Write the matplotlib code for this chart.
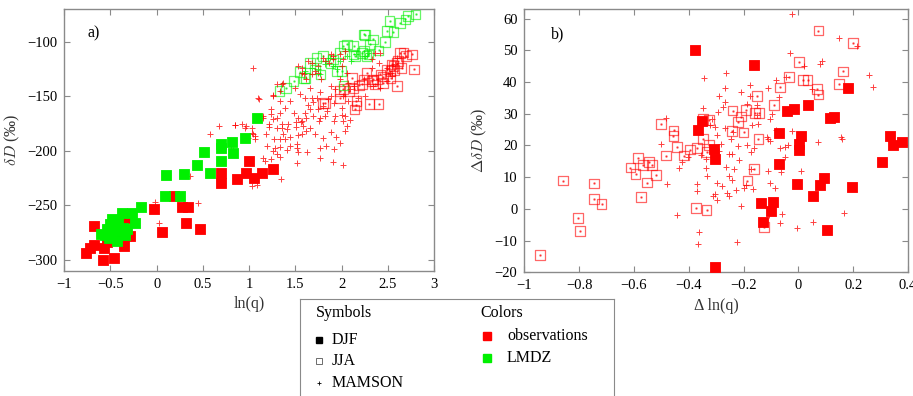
import matplotlib
matplotlib.use('agg')
import matplotlib.pyplot as plt
from matplotlib.ticker import FuncFormatter

plt.rcParams['font.family'] = ['Liberation Serif', 'DejaVu Serif']
plt.rcParams['mathtext.fontset'] = 'cm'
plt.rcParams['axes.unicode_minus'] = True

RED = '#ff0000'
GREEN = '#00f000'
GRAY = '#8a8a8a'

# ---- panel a: deltaD against ln(q) ----
a_obs_djf_x = [-0.77, -0.72, -0.675, -0.675, -0.578, -0.57, -0.535, -0.465, -0.416, -0.397,
               -0.35, -0.325, -0.29, -0.03, 0.054, 0.19, 0.27, 0.335, 0.32, 0.47,
               0.69, 0.69, 0.87, 0.97, 1.0, 1.05, 1.14, 1.26]
a_obs_djf_y = [-293.9, -289.3, -286.2, -269.2, -300.6, -289.3, -283.8, -298.2, -266, -278.3,
               -287.5, -261.5, -278.3, -253.8, -274.3, -241.3, -251.4, -252, -266, -272.2,
               -220.2, -229.4, -225.7, -220, -209.5, -224.7, -220, -216.5]

a_lmdz_djf_x = [0.10, 0.29, 0.44, 0.58, 0.51, 0.69, 0.69, 0.69, 0.81, 0.83, 0.96, 1.09,
                0.087, 0.25, -0.17, -0.38, -0.27, -0.24, -0.48, -0.43, -0.6, -0.54,
                -0.505, -0.45, -0.40, -0.36, -0.325, -0.487, -0.56, -0.34, -0.52, -0.42]
a_lmdz_djf_y = [-222.3, -221, -213.1, -220, -200.9, -209.2, -197.2, -193.6, -191.7, -201.8, -188.4, -170.4,
                -241.3, -241.9, -252, -256.9, -257, -266, -262.4, -283.2, -275.9, -272.2,
                -267.6, -270.6, -273.8, -270.6, -272.2, -276.8, -277.7, -276.8, -280, -265]

a_obs_jja_x = [2.02, 2.13, 1.80, 1.98, 2.16, 2.16, 2.30, 2.40, 2.34, 2.45, 2.49, 2.54, 2.61,
               2.67, 2.76, 2.78, 2.65, 2.60, 2.53, 2.24, 2.27, 2.22, 2.36, 2.45, 2.53, 2.60,
               2.08, 2.19, 2.42, 2.57, 2.70, 2.33, 2.38, 2.56, 2.63, 2.11, 1.82, 2.14, 1.98]
a_obs_jja_y = [-143.1, -143, -156.6, -152, -158.4, -154.5, -157, -157, -134.6, -132, -125.4, -120.8, -117.8,
               -110, -111.7, -125.4, -123.9, -140.7, -133, -134.6, -128.5, -139.2, -139.2, -137.7, -127, -119.3,
               -145, -140, -130, -126, -113, -136.1, -134.6, -122.4, -110.1, -133, -156, -162.1, -145]

a_lmdz_jja_x = [1.33, 1.40, 1.48, 1.61, 1.66, 1.71, 1.77, 1.88, 1.91, 2.02, 2.06, 1.98, 2.02,
                2.22, 2.25, 2.34, 2.29, 2.47, 2.49, 2.56, 2.52, 2.63, 2.69, 2.72, 2.80, 2.31,
                2.13, 1.95, 2.13, 1.55, 1.80, 2.40, 1.59, 1.73, 2.00, 2.15, 2.24, 2.27, 2.24]
a_lmdz_jja_y = [-145.3, -142.2, -136.1, -133, -119.3, -125.4, -130, -119.3, -116.2, -104, -102.5, -110.1, -140.1,
                -110.1, -93.9, -97.9, -111.6, -100.4, -90.3, -90.9, -81.2, -82.6, -79.6, -76.5, -75, -102.5,
                -111.6, -127, -104, -128, -113, -108, -133, -114.7, -127, -113.2, -108.6, -113.2, -93.3]

a_obs_mam_x = [1.04, 1.37, 1.30, 1.26, 1.11, 1.33, 1.44, 1.50, 1.53, 1.57, 1.55, 1.60, 1.66, 1.64,
               1.69, 1.73, 1.77, 1.75, 1.80, 1.85, 1.88, 1.92, 1.93, 1.88, 1.98, 2.06, 2.07, 2.00,
               1.98, 1.91, 1.86, 1.89, 1.80, 1.75, 1.71, 1.68, 1.75, 1.78, 1.62, 1.59, 1.57, 1.64,
               1.68, 1.82, 1.91, 2.04, 2.02, 2.13, 2.18, 2.24, 2.33, 2.40, 2.42, 2.36, 2.33, 2.49,
               2.52, 2.54, 2.58, 2.60, 2.49, 2.42, 2.34, 2.25, 2.09, 2.02, 2.07, 1.84, 1.93, 2.00,
               2.04, 1.39, 1.33, 1.24, 1.26, 1.48, 1.53, 1.60, 1.66, 1.69, 1.77, 1.57, 1.68, 1.33,
               0.847, 0.92, 0.97, 0.956, 1.03, 1.03, 1.06, 1.06, 0.99, 1.15, 1.24, 1.30, 1.21, 1.22,
               1.30, 1.36, 1.35, 1.41, 1.42, 1.51, 1.51, 1.56, 1.58, 1.62, 1.66, 1.62, 1.71, 1.76,
               1.82, 1.92, 2.02, 2.06, 2.04, 2.09, 2.00, 1.57, 1.53, 1.44, 1.39, 1.33, 1.27, 1.37,
               1.18, 1.19, 1.28, 1.33, 1.44, 1.52, 1.52, 1.41, 1.53, 1.63, 1.26, 1.30, 1.33, 1.24,
               1.15, 1.17, 1.52, 1.77, 1.83, 1.92, 1.98, 1.89, 1.94, 1.80, 1.77, 1.91, 2.02, 1.34,
               1.03, 1.08, 0.80, 0.83, 0.67, 0.58, 0.36, 0.85, 1.04, 1.10, 1.15, 1.26, 1.35,
               -0.015, 0.025, 0.45]
a_obs_mam_y = [-123.9, -137.6, -139.2, -149.3, -152.3, -145.3, -154.5, -142.2, -122.4, -128.4, -148.3, -151.4, -142.2, -158.4,
               -155.4, -151.4, -146.2, -161.5, -159.1, -152.9, -149.9, -156, -143.8, -140.7, -134.6, -128.4, -137.6, -122.4,
               -111.6, -116.2, -119.3, -111.6, -114.7, -122.4, -127, -130, -128.4, -134.6, -134.6, -130, -123.9, -117.8,
               -119.3, -117.8, -113.2, -108.6, -115.6, -140.7, -151.4, -134.6, -123.9, -119.3, -110.1, -110.1, -116.2, -123.9,
               -128.4, -131.5, -120.8, -114.7, -136.1, -142.2, -140.7, -149.9, -143.8, -149.9, -154.5, -163.7, -168.2, -160.5,
               -168.2, -160.5, -165.1, -162.1, -171.3, -165.1, -169.7, -165.1, -162.1, -168.2, -169.7, -172.8, -151.4, -154.5,
               -176.8, -175.9, -177.4, -178.9, -178.9, -183.5, -186.6, -189.6, -188.1, -169.7, -166.7, -170.4, -175.2, -178.3,
               -178.9, -175.9, -179.5, -180.5, -175.2, -173.4, -178.3, -173.4, -177.4, -170.4, -178.9, -182, -184.4, -172.8,
               -168.2, -172.8, -172.8, -177.4, -182, -172.2, -167.6, -185, -185.7, -187.2, -189.6, -189.6, -189, -185,
               -185, -195.8, -197.3, -196.7, -195.8, -193.6, -197.3, -199.1, -201.3, -201.3, -200.3, -202.8, -205.9, -208,
               -206.4, -209.5, -211, -197.9, -195.8, -198.8, -192.7, -182.6, -187.5, -188.7, -206.4, -210.1, -213.2, -226.3,
               -232.5, -231.5, -198.8, -199, -177.4, -185, -222.7, -176.5, -185, -152, -168.2, -149.9, -139.2,
               -247.1, -266.7, -247.7]

a_lmdz_mam_x = [1.75, 1.82, 1.91, 1.98, 2.06, 1.87, 1.68, 1.77, 2.29, 2.25, 2.16, 1.95, 1.60, 2.10]
a_lmdz_mam_y = [-125.4, -120.8, -122.4, -117.8, -113.2, -114.7, -123.9, -130, -110.1, -113.2, -111.6, -125, -127, -118]

# ---- panel b: deltaD anomaly against ln(q) anomaly (observations) ----
b_djf_x = [-0.377, -0.161, -0.35, -0.365, 0.18, 0.034, -0.043, -0.015, 0.115, 0.13, -0.071, 0.009,
           0.334, 0.002, 0.002, 0.346, 0.377, 0.305, -0.07, 0.094, 0.079, -0.004, 0.197, 0.054,
           -0.136, -0.092, -0.10, -0.13, 0.105, -0.307, -0.304, -0.303]
b_djf_y = [50.2, 45.4, 27.8, 25.0, 38.1, 32.8, 30.8, 31.5, 28.6, 29.1, 24.0, 22.9,
           23.1, 20.4, 18.6, 20.0, 21.0, 14.9, 14.2, 9.7, 7.6, 7.8, 6.8, 4.0,
           1.8, 2.1, -0.6, -4.2, -6.8, 18.8, 15.8, -18.4]

b_jja_x = [-0.86, -0.745, -0.613, -0.594, -0.586, -0.566, -0.545, -0.535, -0.552, -0.52, -0.502, -0.483,
           -0.455, -0.456, -0.444, -0.418, -0.395, -0.371, -0.349, -0.327, -0.335, -0.347, -0.326, -0.24,
           -0.221, -0.243, -0.20, -0.191, -0.209, -0.152, -0.158, -0.144, -0.146, -0.088, -0.067, -0.034,
           0.003, 0.018, 0.034, 0.067, 0.073, 0.073, 0.149, 0.164, 0.20, -0.161, -0.186,
           -0.745, -0.718, -0.575, -0.805, -0.798, -0.943, -0.374, -0.335, -0.126]
b_jja_y = [8.9, 8.0, 13.0, 11.0, 16.1, 13.9, 14.7, 13.9, 8.3, 10.6, 26.7, 16.8,
           24.7, 23.0, 19.5, 16.8, 18.7, 19.1, 22.0, 20.2, 18.0, 28.3, 28.1, 31.0,
           27.4, 24.6, 24.1, 31.2, 29.1, 35.6, 30.2, 30.2, 22.1, 32.8, 38.3, 41.5,
           46.2, 40.7, 40.7, 37.8, 36.0, 56.2, 39.4, 43.3, 52.3, 12.6, 8.9,
           3.2, 1.5, 3.8, -2.8, -7.0, -14.5, 0.2, -0.4, -5.7]

b_mam_x = [-0.484, -0.346, -0.265, -0.268, -0.289, -0.268, -0.274, -0.292, -0.347, -0.316, -0.304, -0.322,
           -0.268, -0.211, -0.189, -0.177, -0.177, -0.170, -0.237, -0.298,
           -0.025, 0.148, 0.213, -0.031, 0.085, 0.079, 0.022, 0.259, 0.273, -0.082, -0.045, -0.11,
           0.049, -0.071, -0.104, -0.097, -0.152, -0.15, -0.146, -0.083, -0.024, 0.155, -0.116,
           -0.502, -0.436, -0.481, -0.444, -0.371, -0.371, -0.364, -0.367, -0.223, -0.332, -0.338,
           -0.296, -0.278, -0.31, -0.304, -0.296, -0.262, -0.252, -0.229, -0.198, -0.164, -0.209,
           -0.284, -0.247, -0.219, -0.189, -0.161, -0.252, -0.241, -0.216, -0.173, -0.264, -0.235,
           -0.254, -0.243, -0.192, -0.173, -0.337, -0.425, -0.403, -0.355, -0.289,
           -0.112, -0.104, -0.067, -0.049, -0.039, 0.073, 0.158, -0.049, -0.112, -0.065, 0.008,
           -0.104, -0.085, -0.106, -0.059, -0.066, -0.006, 0.054, 0.167]
b_mam_y = [28.7, 41.2, 42.9, 38.1, 35.7, 33.7, 32.1, 30.5, 31.9, 28.4, 25.8, 26.5,
           25.6, 36.8, 33.1, 38.9, 35.6, 26.5, 24.2, 23.3,
           61.5, 53.8, 51.2, 49.1, 46.5, 45.7, 45.0, 42.1, 38.4, 40.5, 41.5, 38.1,
           37.9, 35.2, 28.4, 30.0, 32.6, 29.7, 26.8, 25.0, 24.5, 22.6, 22.6,
           20.5, 12.8, 7.9, -2.0, 7.8, 5.5, -7.4, -11.0, -10.3, 10.4, 12.8,
           8.3, 7.3, 4.1, 4.6, 2.8, 5.0, 4.2, 6.0, 6.5, 6.3, 0.9,
           20.5, 22.1, 19.7, 20.0, 19.3, 17.3, 17.3, 15.5, 17.9, 13.2, 12.6,
           10.2, 9.1, 7.6, 12.5, 15.7, 14.9, 16.2, 17.0, 18.3,
           22.0, 21.5, 19.1, 19.6, 20.0, 21.0, 22.0, 16.2, 12.0, 11.5, 11.8,
           8.1, 6.7, -1.9, -1.7, -4.6, -6.1, -4.2, -1.4]


def minus_fmt(v, pos):
    return ('%g' % v).replace('-', '\u2212')


def style_axes(ax):
    for s in ax.spines.values():
        s.set_color(GRAY)
        s.set_linewidth(1.0)
    ax.tick_params(direction='in', length=4, width=0.8, color=GRAY,
                   top=True, right=True, labelsize=10.5, pad=5)
    ax.xaxis.set_major_formatter(FuncFormatter(minus_fmt))
    ax.yaxis.set_major_formatter(FuncFormatter(minus_fmt))


def filled(ax, x, y, color):
    ax.scatter(x, y, s=42, marker='s', c=color, edgecolors=color, linewidths=0.6, zorder=3)


def open_sq(ax, x, y, color):
    ax.scatter(x, y, s=48, marker='s', facecolors='none', edgecolors=color,
               linewidths=0.9, alpha=0.6, zorder=2)
    ax.scatter(x, y, s=0.6, marker='o', c=color, alpha=0.6, zorder=2)


def pluses(ax, x, y, color):
    ax.scatter(x, y, s=13, marker='+', c=color, linewidths=0.7, alpha=0.75, zorder=2)


fig = plt.figure(figsize=(9.13, 3.96), dpi=100)

ax1 = fig.add_axes([0.0704, 0.3164, 0.405, 0.6609])
open_sq(ax1, a_obs_jja_x, a_obs_jja_y, RED)
open_sq(ax1, a_lmdz_jja_x, a_lmdz_jja_y, GREEN)
pluses(ax1, a_obs_mam_x, a_obs_mam_y, RED)
pluses(ax1, a_lmdz_mam_x, a_lmdz_mam_y, GREEN)
filled(ax1, a_obs_djf_x, a_obs_djf_y, RED)
filled(ax1, a_lmdz_djf_x, a_lmdz_djf_y, GREEN)
ax1.set_xlim(-1, 3)
ax1.set_ylim(-310, -70)
ax1.set_xticks([-1, -0.5, 0, 0.5, 1, 1.5, 2, 2.5, 3])
ax1.set_yticks([-300, -250, -200, -150, -100])
style_axes(ax1)
ax1.set_xlabel('ln(q)', fontsize=11.5, color='#333333', labelpad=4)
ax1.set_ylabel(r'$\delta D$ (‰)', fontsize=11.5, color='#333333', labelpad=4)
ax1.text(0.064, 0.905, 'a)', transform=ax1.transAxes, fontsize=11.5, va='center')

ax2 = fig.add_axes([0.5743, 0.3124, 0.4202, 0.6649])
open_sq(ax2, b_jja_x, b_jja_y, RED)
pluses(ax2, b_mam_x, b_mam_y, RED)
filled(ax2, b_djf_x, b_djf_y, RED)
ax2.set_xlim(-1, 0.4)
ax2.set_ylim(-20, 63)
ax2.set_xticks([-1, -0.8, -0.6, -0.4, -0.2, 0, 0.2, 0.4])
ax2.set_yticks([-20, -10, 0, 10, 20, 30, 40, 50, 60])
style_axes(ax2)
ax2.set_xlabel('\u0394 ln(q)', fontsize=11.5, color='#333333', labelpad=4)
ax2.set_ylabel(r'$\Delta\delta D$ (‰)', fontsize=11.5, color='#333333', labelpad=4)
ax2.text(0.069, 0.905, 'b)', transform=ax2.transAxes, fontsize=11.5, va='center')

# legend box: symbols for seasons, colours for data source
lg = fig.add_axes([300 / 913, 0, 314 / 913, 97 / 396])
lg.set_xlim(0, 1)
lg.set_ylim(0, 1)
lg.set_xticks([])
lg.set_yticks([])
for side, s in lg.spines.items():
    s.set_color(GRAY)
    s.set_visible(side != 'bottom')

lg.text(0.051, 0.86, 'Symbols', fontsize=11.5, va='center')
lg.plot(0.06, 0.58, 's', ms=5, color='black')
lg.text(0.102, 0.58, 'DJF', fontsize=11.5, va='center')
lg.plot(0.06, 0.36, 's', ms=5, mfc='none', mec='#555555', mew=0.6)
lg.text(0.102, 0.36, 'JJA', fontsize=11.5, va='center')
lg.plot(0.06, 0.13, '+', ms=3.5, color='black', mew=0.6)
lg.text(0.102, 0.13, 'MAMSON', fontsize=11.5, va='center')

lg.text(0.575, 0.86, 'Colors', fontsize=11.5, va='center')
lg.plot(0.594, 0.62, 's', ms=5.5, color=RED)
lg.text(0.659, 0.62, 'observations', fontsize=11.5, va='center')
lg.plot(0.594, 0.39, 's', ms=5.5, color=GREEN)
lg.text(0.659, 0.39, 'LMDZ', fontsize=11.5, va='center')

fig.savefig('out.png', dpi=100)
